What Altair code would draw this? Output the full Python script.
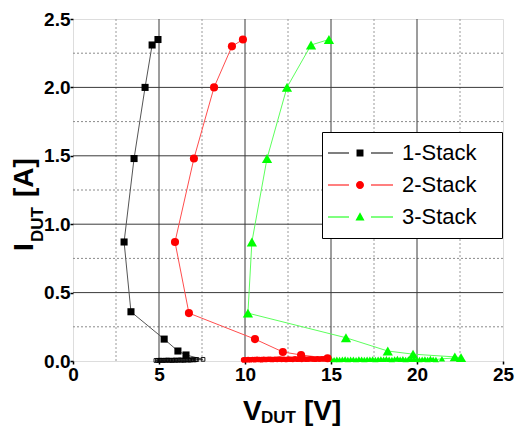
import altair as alt
import pandas as pd

series_names = ["1-Stack", "2-Stack", "3-Stack"]

# main TLP points (in measurement order, low current -> high current)
s1_v = [6.57, 6.10, 5.30, 3.37, 2.97, 3.55, 4.19, 4.60, 4.94]
s1_i = [0.044, 0.073, 0.16, 0.36, 0.87, 1.48, 2.00, 2.31, 2.35]
s2_v = [14.80, 13.26, 12.20, 10.58, 6.74, 5.93, 7.03, 8.20, 9.24, 9.88]
s2_i = [0.020, 0.044, 0.066, 0.16, 0.35, 0.87, 1.48, 2.00, 2.30, 2.35]
s3_v = [22.56, 22.20, 19.77, 18.30, 15.87, 10.17, 10.40, 11.28, 12.44, 13.84, 14.88]
s3_i = [0.025, 0.030, 0.050, 0.073, 0.17, 0.35, 0.87, 1.48, 2.00, 2.31, 2.35]

# pre-snapback (leakage) points lying along the V axis
l1_v = [4.82, 4.91, 4.99, 5.08, 5.16, 5.25, 5.33, 5.42, 5.50, 5.59, 5.67, 5.76, 5.84, 5.93, 6.01,
        6.10, 6.18, 6.27, 6.35, 6.44, 6.52, 6.61, 6.69, 6.78, 6.86, 6.95, 7.03, 7.12, 7.20, 7.56]
l1_i = [0.004, 0.005, 0.004, 0.006, 0.005, 0.004, 0.006, 0.005, 0.007, 0.005, 0.006, 0.004, 0.006, 0.007, 0.005,
        0.006, 0.008, 0.006, 0.007, 0.005, 0.008, 0.007, 0.009, 0.006, 0.008, 0.010, 0.008, 0.009, 0.011, 0.012]
l2_v = [9.92, 10.05, 10.18, 10.31, 10.44, 10.57, 10.70, 10.83, 10.96, 11.09, 11.22, 11.35, 11.48, 11.61,
        11.74, 11.87, 12.00, 12.13, 12.26, 12.39, 12.52, 12.65, 12.78, 12.91, 13.04, 13.17, 13.30, 13.43,
        13.56, 13.69, 13.82, 13.95, 14.08, 14.21, 14.34, 14.47, 14.60]
l2_i = [0.008, 0.009, 0.010, 0.009, 0.011, 0.010, 0.012, 0.011, 0.010, 0.012, 0.011, 0.013, 0.012, 0.011,
        0.013, 0.012, 0.014, 0.012, 0.013, 0.011, 0.014, 0.013, 0.012, 0.015, 0.013, 0.014, 0.012, 0.015,
        0.013, 0.014, 0.016, 0.014, 0.013, 0.015, 0.014, 0.016, 0.015]
l3_v = [15.02, 15.18, 15.34, 15.50, 15.66, 15.82, 15.98, 16.14, 16.30, 16.46, 16.62, 16.78, 16.94, 17.10,
        17.26, 17.42, 17.58, 17.74, 17.90, 18.06, 18.22, 18.38, 18.54, 18.70, 18.86, 19.02, 19.18, 19.34,
        19.50, 19.66, 19.82, 19.98, 20.14, 20.30, 20.46, 20.62, 20.78, 20.94, 21.10, 21.45]
l3_i = [0.012, 0.010, 0.013, 0.011, 0.012, 0.014, 0.011, 0.013, 0.012, 0.010, 0.014, 0.012, 0.011, 0.013,
        0.012, 0.014, 0.011, 0.013, 0.015, 0.012, 0.016, 0.013, 0.011, 0.014, 0.018, 0.012, 0.017, 0.011,
        0.014, 0.012, 0.016, 0.013, 0.011, 0.012, 0.015, 0.011, 0.018, 0.012, 0.011, 0.016]

x_ticks = [0, 5, 10, 15, 20, 25]
y_ticks = [0.0, 0.5, 1.0, 1.5, 2.0, 2.5]
x_minor = [2.5, 7.5, 12.5, 17.5, 22.5]
y_minor = [0.25, 0.75, 1.25, 1.75, 2.25]
x_major = [5, 10, 15, 20]
y_major = [0.5, 1.0, 1.5, 2.0]

marker_colors = ["#000000", "#ff0000", "#00ff00"]
line_colors = ["#555555", "#ff4d4d", "#5cff5c"]

rows = []
for name, lv, li, mv, mi in [
    ("1-Stack", l1_v, l1_i, s1_v, s1_i),
    ("2-Stack", l2_v, l2_i, s2_v, s2_i),
    ("3-Stack", l3_v, l3_i, s3_v, s3_i),
]:
    k = 0
    for v, i in zip(lv, li):
        rows.append({"V": v, "I": i, "series": name, "kind": "leak", "idx": k})
        k += 1
    for v, i in zip(mv, mi):
        rows.append({"V": v, "I": i, "series": name, "kind": "main", "idx": k})
        k += 1
df = pd.DataFrame(rows)

FONT = "Liberation Sans"

xscale = alt.Scale(domain=[0, 25], nice=False, zero=False)
yscale = alt.Scale(domain=[0, 2.5], nice=False, zero=False)
xaxis = alt.Axis(values=x_ticks, title=None, grid=False, domain=False, labelFont=FONT,
                 labelFontWeight="bold", labelFontSize=19, labelColor="black", labelFlush=False,
                 labelPadding=1, tickColor="black", tickSize=3, tickWidth=1.5, format="d")
yaxis = alt.Axis(values=y_ticks, title=None, grid=False, domain=False, labelFont=FONT,
                 labelFontWeight="bold", labelFontSize=19, labelColor="black", labelFlush=False,
                 labelPadding=0, tickColor="black", tickSize=3, tickWidth=1.5, format=".1f")
X = alt.X("V:Q", scale=xscale, axis=xaxis)
Y = alt.Y("I:Q", scale=yscale, axis=yaxis)

minor_x = alt.Chart(pd.DataFrame({"V": x_minor})).mark_rule(
    color="#9a9a9a", strokeDash=[2, 2], strokeWidth=1).encode(x=X)
minor_y = alt.Chart(pd.DataFrame({"I": y_minor})).mark_rule(
    color="#8a8a8a", strokeDash=[2, 2], strokeWidth=1).encode(y=Y)
major_x = alt.Chart(pd.DataFrame({"V": x_major})).mark_rule(
    color="#3a3a3a", strokeWidth=1).encode(x=X)
major_y = alt.Chart(pd.DataFrame({"I": y_major})).mark_rule(
    color="#3a3a3a", strokeWidth=1).encode(y=Y)

lines = alt.Chart(df).mark_line(strokeWidth=1).encode(
    x=X, y=Y,
    color=alt.Color("series:N", scale=alt.Scale(domain=series_names, range=line_colors), legend=None),
    order="idx:Q",
)

base = alt.Chart(df)
leak1 = base.transform_filter("datum.series == '1-Stack' && datum.kind == 'leak'").mark_point(
    shape="square", size=14, filled=False, color="black", strokeWidth=0.9, opacity=1).encode(x=X, y=Y)
leak2 = base.transform_filter("datum.series == '2-Stack' && datum.kind == 'leak'").mark_point(
    shape="circle", size=32, filled=True, color="#ff0000", opacity=1).encode(x=X, y=Y)
leak3 = base.transform_filter("datum.series == '3-Stack' && datum.kind == 'leak'").mark_point(
    shape="triangle-up", size=40, filled=True, color="#00ff00", opacity=1).encode(x=X, y=Y)
main1 = base.transform_filter("datum.series == '1-Stack' && datum.kind == 'main'").mark_point(
    shape="square", size=50, filled=True, color="black", opacity=1).encode(x=X, y=Y)
main2 = base.transform_filter("datum.series == '2-Stack' && datum.kind == 'main'").mark_point(
    shape="circle", size=66, filled=True, color="#ff0000", opacity=1).encode(x=X, y=Y)
main3 = base.transform_filter("datum.series == '3-Stack' && datum.kind == 'main'").mark_point(
    shape="triangle-up", size=105, filled=True, color="#00ff00", opacity=1).encode(x=X, y=Y)

# legend symbols: line - marker - line (units of half the symbol side = 8 px);
# the trailing moveTo only widens the symbol's bounds so the legend box reaches its width
sym_square = ("M-1.875,-0.07H0.75V0.07H-1.875Z "
              "M1.69,-0.44H2.56V0.44H1.69Z "
              "M3.5,-0.07H6.25V0.07H3.5Z M18.6,0")
sym_circle = ("M-1.875,-0.07H0.75V0.07H-1.875Z "
              "M2.625,0A0.5,0.5 0 1,1 1.625,0A0.5,0.5 0 1,1 2.625,0Z "
              "M3.5,-0.07H6.25V0.07H3.5Z M18.6,0")
sym_tri = ("M-1.875,-0.07H0.75V0.07H-1.875Z "
           "M2.125,-0.58L2.69,0.45L1.56,0.45Z "
           "M3.5,-0.07H6.25V0.07H3.5Z M18.6,0")

leg = alt.Legend(title=None, orient="none", legendX=249, legendY=113, padding=10,
                 fillColor="white", strokeColor="black", labelFont=FONT, labelFontSize=22,
                 labelColor="black", symbolSize=256, symbolStrokeWidth=0, symbolOpacity=1,
                 labelOffset=48, rowPadding=10)
legend_layer = alt.Chart(df).mark_point(filled=True, opacity=0).encode(
    x=X, y=Y,
    color=alt.Color("series:N", scale=alt.Scale(domain=series_names, range=marker_colors), legend=leg),
    shape=alt.Shape("series:N", scale=alt.Scale(domain=series_names, range=[sym_square, sym_circle, sym_tri]),
                    legend=leg),
)


def label(txt, x, y, size, angle=0):
    return alt.Chart(alt.Data(values=[{"t": txt}])).mark_text(
        font=FONT, fontWeight="bold", fontSize=size, align="left", baseline="alphabetic",
        angle=angle, color="black").encode(text="t:N", x=alt.value(x), y=alt.value(y))


ytitle = label("I", -40, 232, 28, 270) + label("DUT", -30, 223, 17, 270) + label("[A]", -40, 178, 28, 270)
xtitle = label("V", 170, 401, 28) + label("DUT", 188, 404, 17) + label("[V]", 231, 401, 28)

chart = alt.layer(
    minor_x, minor_y, major_x, major_y, lines,
    leak1, leak2, leak3, main1, main2, main3, legend_layer,
    ytitle, xtitle,
).resolve_scale(color="independent", shape="independent").properties(
    width=430, height=342,
    autosize=alt.AutoSizeParams(type="none"),
    padding={"left": 73, "top": 19, "right": 15, "bottom": 66},
).configure_view(stroke="black", strokeWidth=2).configure(background="white")

chart.save("out.html", embed_options={"renderer": "svg", "actions": False})
